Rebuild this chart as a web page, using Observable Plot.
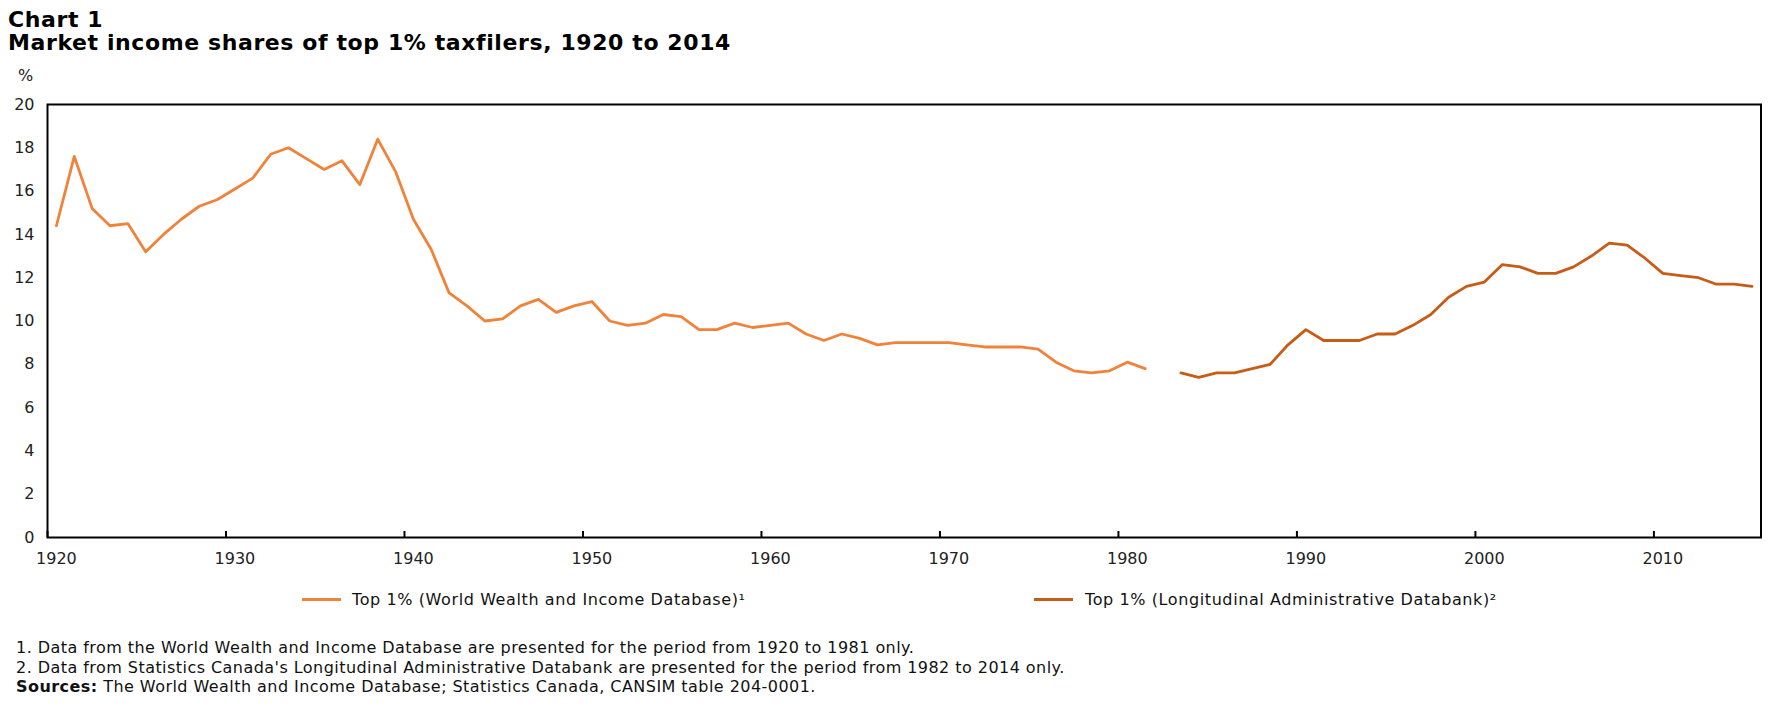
<!DOCTYPE html>
<html>
<head>
<meta charset="utf-8">
<script src="https://cdn.jsdelivr.net/npm/d3@7"></script>
<script src="https://cdn.jsdelivr.net/npm/@observablehq/plot@0.6"></script>
<style>
  body { margin: 0; background: #fff; font-family: "DejaVu Sans", Verdana, sans-serif; color: #111; }
  #page { position: relative; width: 1785px; height: 709px; overflow: hidden; }
  .abs { position: absolute; white-space: nowrap; line-height: 1; }
  .t { font-weight: bold; font-size: 22px; letter-spacing: 0.6px; color: #000; }
  .note { font-size: 16px; letter-spacing: 0.45px; color: #111; }
  .leg { font-size: 16px; letter-spacing: 0.6px; color: #111; }
  .sw { position: absolute; height: 3px; }
  #chart { position: absolute; left: 0; top: 60px; }
</style>
</head>
<body>
<div id="page">
  <div id="chart"></div>
  <div class="abs t" style="left:8px; top:9px;">Chart 1</div>
  <div class="abs t" style="left:8px; top:31.5px;">Market income shares of top 1% taxfilers, 1920 to 2014</div>
  <div class="abs" style="left:18px; top:68px; font-size:16px; color:#222;">%</div>
  <div class="sw" id="sw1" style="left:302px; width:39px; top:598px;"></div>
  <div class="abs leg" id="lg1" style="left:352px; top:592px;"></div>
  <div class="sw" id="sw2" style="left:1034px; width:39px; top:598px;"></div>
  <div class="abs leg" id="lg2" style="left:1085px; top:592px;"></div>
  <div class="abs note" style="left:16px; top:639.5px;">1. Data from the World Wealth and Income Database are presented for the period from 1920 to 1981 only.</div>
  <div class="abs note" style="left:16px; top:659.5px;">2. Data from Statistics Canada's Longitudinal Administrative Databank are presented for the period from 1982 to 2014 only.</div>
  <div class="abs note" style="left:16px; top:679px;"><b>Sources:</b> The World Wealth and Income Database; Statistics Canada, CANSIM table 204-0001.</div>
</div>
<script>
// Series names and colours
const seriesNames = ["Top 1% (World Wealth and Income Database)\u00B9", "Top 1% (Longitudinal Administrative Databank)\u00B2"];
const seriesColors = ["#F0823A", "#C75C17"];

// World Wealth and Income Database, plotted in categories 1920..1981
const widStart = 1920;
const widValues = [
  14.4, 17.6, 15.2, 14.4, 14.5, 13.2, 14.0, 14.7, 15.3, 15.6,
  16.1, 16.6, 17.7, 18.0, 17.5, 17.0, 17.4, 16.3, 18.4, 16.9,
  14.7, 13.3, 11.3, 10.7, 10.0, 10.1, 10.7, 11.0, 10.4, 10.7,
  10.9, 10.0, 9.8, 9.9, 10.3, 10.2, 9.6, 9.6, 9.9, 9.7,
  9.8, 9.9, 9.4, 9.1, 9.4, 9.2, 8.9, 9.0, 9.0, 9.0,
  9.0, 8.9, 8.8, 8.8, 8.8, 8.7, 8.1, 7.7, 7.6, 7.7,
  8.1, 7.8
];

// Longitudinal Administrative Databank, as positioned on the chart's category axis
const ladStart = 1983;
const ladValues = [
  7.6, 7.4, 7.6, 7.6, 7.8, 8.0, 8.9, 9.6, 9.1, 9.1,
  9.1, 9.4, 9.4, 9.8, 10.3, 11.1, 11.6, 11.8, 12.6, 12.5,
  12.2, 12.2, 12.5, 13.0, 13.6, 13.5, 12.9, 12.2, 12.1, 12.0,
  11.7, 11.7, 11.6
];

// Axis ticks
const xTickYears = [1920, 1930, 1940, 1950, 1960, 1970, 1980, 1990, 2000, 2010];
const yTicks = [0, 2, 4, 6, 8, 10, 12, 14, 16, 18, 20];
const xDomain = [1920, 2016];
const yDomain = [0, 20];

const widRows = widValues.map((v, i) => ({year: widStart + i, value: v}));
const ladRows = ladValues.map((v, i) => ({year: ladStart + i, value: v}));

const chart = Plot.plot({
  width: 1785,
  height: 520,
  marginLeft: 47,
  marginRight: 24.5,
  marginTop: 44,
  marginBottom: 43,
  style: {fontFamily: "DejaVu Sans, Verdana, sans-serif", fontSize: "16px", color: "#222", background: "none"},
  x: {domain: xDomain},
  y: {domain: yDomain},
  marks: [
    Plot.axisY({ticks: yTicks, tickSize: 0, tickPadding: 13, label: null}),
    Plot.axisX({ticks: xTickYears.map(d => d + 0.5), tickSize: 0, tickPadding: 15, tickFormat: d => String(Math.floor(d)), label: null}),
    Plot.axisX({ticks: xTickYears, tickSize: 6, dy: -6, tickFormat: () => "", label: null, stroke: "#000", strokeWidth: 2}),
    Plot.line(widRows, {x: d => d.year + 0.5, y: "value", stroke: seriesColors[0], strokeWidth: 2.8}),
    Plot.line(ladRows, {x: d => d.year + 0.5, y: "value", stroke: seriesColors[1], strokeWidth: 2.8}),
    Plot.frame({stroke: "#000", strokeWidth: 2})
  ]
});
document.getElementById("chart").appendChild(chart);

document.getElementById("sw1").style.background = seriesColors[0];
document.getElementById("sw2").style.background = seriesColors[1];
document.getElementById("lg1").textContent = seriesNames[0];
document.getElementById("lg2").textContent = seriesNames[1];
</script>
</body>
</html>
